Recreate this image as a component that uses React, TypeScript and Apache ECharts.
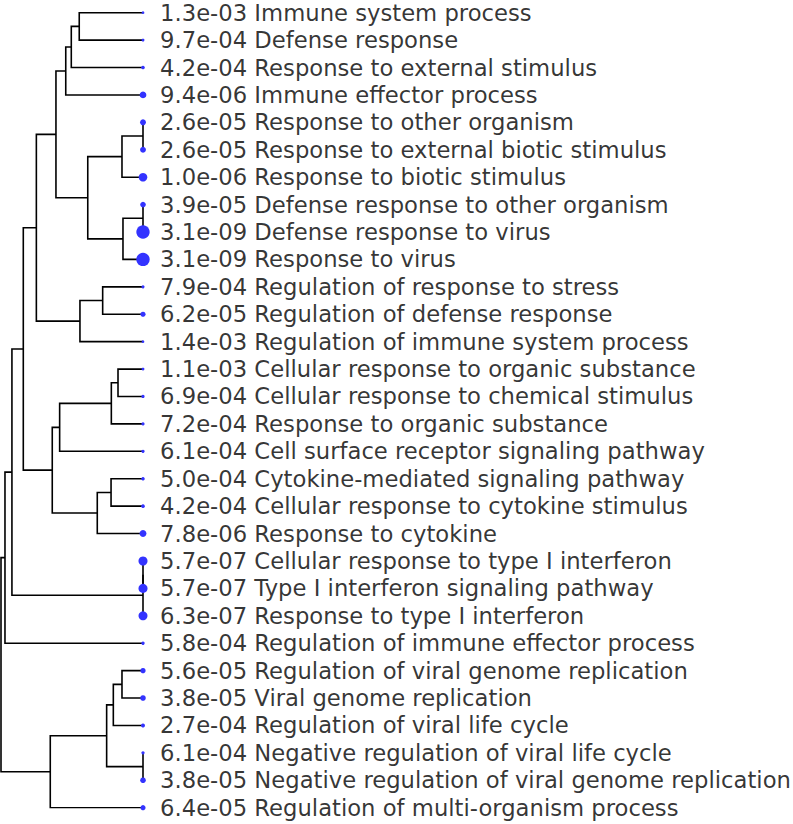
import React, { useEffect, useRef } from "react";
import * as echarts from "echarts";

// Leaf terms (top to bottom) and their p-value labels
const terms: string[] = [
  "Immune system process",
  "Defense response",
  "Response to external stimulus",
  "Immune effector process",
  "Response to other organism",
  "Response to external biotic stimulus",
  "Response to biotic stimulus",
  "Defense response to other organism",
  "Defense response to virus",
  "Response to virus",
  "Regulation of response to stress",
  "Regulation of defense response",
  "Regulation of immune system process",
  "Cellular response to organic substance",
  "Cellular response to chemical stimulus",
  "Response to organic substance",
  "Cell surface receptor signaling pathway",
  "Cytokine-mediated signaling pathway",
  "Cellular response to cytokine stimulus",
  "Response to cytokine",
  "Cellular response to type I interferon",
  "Type I interferon signaling pathway",
  "Response to type I interferon",
  "Regulation of immune effector process",
  "Regulation of viral genome replication",
  "Viral genome replication",
  "Regulation of viral life cycle",
  "Negative regulation of viral life cycle",
  "Negative regulation of viral genome replication",
  "Regulation of multi-organism process",
];

const pLabels: string[] = [
  "1.3e-03", "9.7e-04", "4.2e-04", "9.4e-06", "2.6e-05", "2.6e-05",
  "1.0e-06", "3.9e-05", "3.1e-09", "3.1e-09", "7.9e-04", "6.2e-05",
  "1.4e-03", "1.1e-03", "6.9e-04", "7.2e-04", "6.1e-04", "5.0e-04",
  "4.2e-04", "7.8e-06", "5.7e-07", "5.7e-07", "6.3e-07", "5.8e-04",
  "5.6e-05", "3.8e-05", "2.7e-04", "6.1e-04", "3.8e-05", "6.4e-05",
];

// hclust-style merge matrix: negative = leaf (1-based), positive = earlier merge (1-based)
const merges: [number, number][] = [
  [-1, -2], [1, -3], [2, -4], [-5, -6], [4, -7], [-8, -9], [6, -10],
  [5, 7], [3, 8], [-11, -12], [10, -13], [9, 11], [-14, -15], [13, -16],
  [14, -17], [-18, -19], [16, -20], [15, 17], [12, 18], [-21, -22],
  [20, -23], [19, 21], [22, -24], [-25, -26], [24, -27], [-28, -29],
  [25, 26], [27, -30], [23, 28],
];

// merge heights (distance)
const heights: number[] = [
  0.449, 0.505, 0.544, 0, 0.148, 0, 0.141, 0.389, 0.613, 0.284, 0.444,
  0.751, 0.176, 0.223, 0.587, 0.225, 0.322, 0.639, 0.843, 0, 0, 0.923,
  0.972, 0.148, 0.209, 0, 0.256, 0.653, 1.0,
];

export default function App() {
  const ref = useRef<HTMLDivElement>(null);

  useEffect(() => {
    if (!ref.current) return;
    const chart = echarts.init(ref.current, null, { renderer: "svg" });

    const nodeY: number[] = [];
    const nodeH: number[] = [];
    const segs: any[] = [];
    const pos = (id: number): [number, number] =>
      id < 0 ? [0, -id - 1] : [nodeH[id - 1], nodeY[id - 1]];
    merges.forEach(([a, b], i) => {
      const [ha, ya] = pos(a);
      const [hb, yb] = pos(b);
      const h = heights[i];
      nodeH.push(h);
      nodeY.push((ya + yb) / 2);
      segs.push({ coords: [[ha, ya], [h, ya], [h, yb], [hb, yb]] });
    });

    const leafData = terms.map((t, i) => [0, i, parseFloat(pLabels[i])]);

    chart.setOption({
      animation: false,
      grid: { left: 1, right: 650, top: 12.7, bottom: 16.3 },
      xAxis: { type: "value", inverse: true, min: 0, max: 1, show: false },
      yAxis: { type: "value", inverse: true, min: 0, max: 29, show: false },
      series: [
        {
          type: "lines",
          coordinateSystem: "cartesian2d",
          polyline: true,
          silent: true,
          lineStyle: { color: "#000", width: 1.6, opacity: 1 },
          data: segs,
          z: 1,
        },
        {
          type: "scatter",
          data: leafData,
          symbol: "circle",
          symbolSize: (v: number[]) => Math.max(2.4, 1.89 * (-Math.log10(v[2]) - 1.46)),
          itemStyle: { color: "#3333ff", opacity: 1 },
          clip: false,
          silent: true,
          z: 3,
        },
        {
          type: "scatter",
          data: leafData,
          symbolSize: 0.1,
          itemStyle: { color: "rgba(0,0,0,0)" },
          clip: false,
          silent: true,
          z: 4,
          label: {
            show: true,
            position: "right",
            distance: 17,
            color: "#000",
            fontFamily: "DejaVu Sans",
            fontSize: 22.7,
            verticalAlign: "middle",
            formatter: (p: any) => `${pLabels[p.dataIndex]} ${terms[p.dataIndex]}`,
          },
        },
      ],
    });
    return () => chart.dispose();
  }, []);

  return (
    <div
      ref={ref}
      style={{ position: "fixed", left: 0, top: 0, width: 793, height: 824, background: "#fff" }}
    />
  );
}
